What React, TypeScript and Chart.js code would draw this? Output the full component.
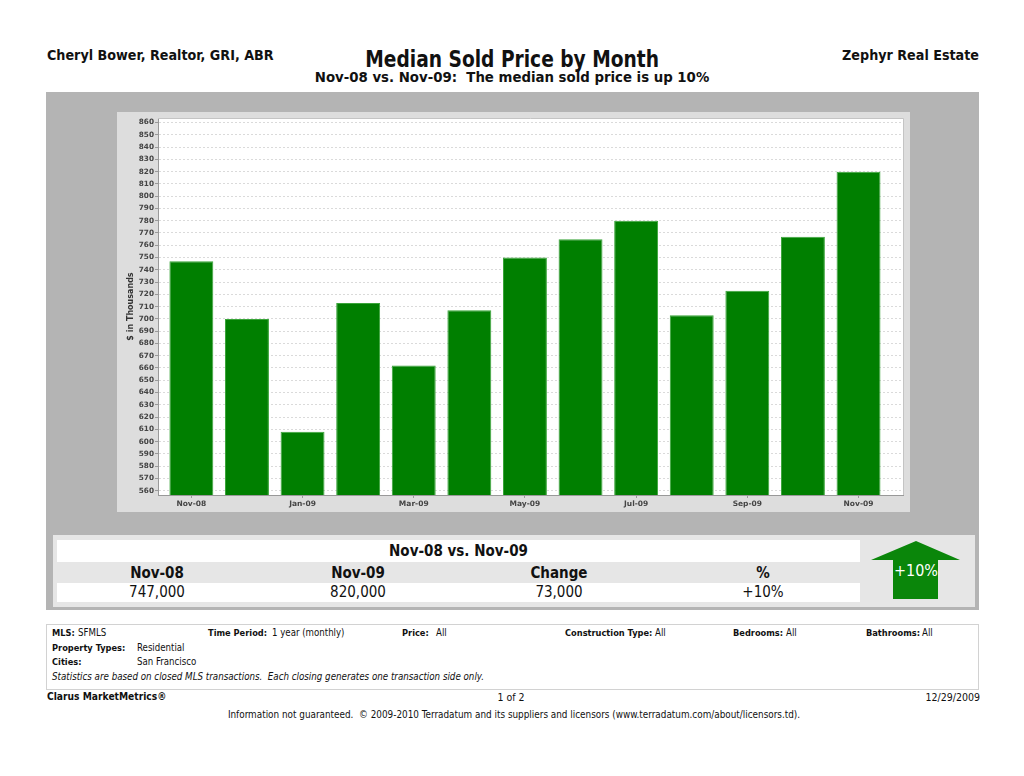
import React, { useEffect, useRef } from "react";
import { Chart, registerables } from "chart.js";

Chart.register(...registerables);

// Monthly median sold price, in thousands of dollars
const months = [
  "Nov-08", "Dec-08", "Jan-09", "Feb-09", "Mar-09", "Apr-09", "May-09",
  "Jun-09", "Jul-09", "Aug-09", "Sep-09", "Oct-09", "Nov-09",
];
const medianPrice = [747, 700, 608, 713, 662, 707, 750, 765, 780, 703, 723, 767, 820];

// Axis labels
const labeledMonths = ["Nov-08", "Jan-09", "Mar-09", "May-09", "Jul-09", "Sep-09", "Nov-09"];
const priceTicks = [
  560, 570, 580, 590, 600, 610, 620, 630, 640, 650, 660, 670, 680, 690, 700,
  710, 720, 730, 740, 750, 760, 770, 780, 790, 800, 810, 820, 830, 840, 850, 860,
];

// Comparison table headers
const compareHeaders = ["Nov-08", "Nov-09", "Change", "%"];

const NARROW = '"DejaVu Sans Condensed", "Liberation Sans Narrow", "Liberation Sans", sans-serif';
const TICK_FONT = '"DejaVu Sans", Verdana, sans-serif';
const GREEN = "#0a860a";

const fmt = (n: number) => n.toLocaleString("en-US");

const firstVal = medianPrice[0] * 1000;
const lastVal = medianPrice[medianPrice.length - 1] * 1000;
const change = lastVal - firstVal;
const pct = Math.round((change / firstVal) * 100);
const pctText = (pct >= 0 ? "+" : "") + pct + "%";
const compareValues = [fmt(firstVal), fmt(lastVal), fmt(change), pctText];

const plotBackground = {
  id: "plotBackground",
  beforeDraw(chart: any) {
    const { ctx, chartArea: a } = chart;
    ctx.save();
    ctx.fillStyle = "#dddddd";
    ctx.fillRect(0, 0, chart.width, chart.height);
    ctx.fillStyle = "#ffffff";
    ctx.fillRect(a.left, a.top, a.right - a.left, a.bottom - a.top);
    ctx.restore();
  },
  afterDraw(chart: any) {
    const { ctx, chartArea: a } = chart;
    ctx.save();
    ctx.strokeStyle = "#c4c4c4";
    ctx.lineWidth = 1;
    ctx.beginPath();
    ctx.moveTo(a.left, a.top + 0.5);
    ctx.lineTo(a.right + 0.5, a.top + 0.5);
    ctx.lineTo(a.right + 0.5, a.bottom);
    ctx.stroke();
    ctx.restore();
  },
};

function PriceChart() {
  const ref = useRef<HTMLCanvasElement | null>(null);
  useEffect(() => {
    if (!ref.current) return;
    const chart = new Chart(ref.current, {
      type: "bar",
      data: {
        datasets: [
          {
            label: "Median Sold Price",
            data: medianPrice.map((v, i) => ({ x: i, y: v })),
            backgroundColor: "#007f00",
            borderColor: "#3aa53a",
            borderWidth: 1,
            barPercentage: 0.79,
            categoryPercentage: 1,
          },
        ],
      },
      options: {
        animation: false,
        responsive: false,
        devicePixelRatio: 1,
        layout: { padding: { top: 6, right: 7, left: 0, bottom: 0 } },
        plugins: { legend: { display: false }, tooltip: { enabled: false } },
        scales: {
          x: {
            type: "linear",
            offset: false,
            min: -0.6,
            max: 12.8,
            afterBuildTicks: (s: any) => {
              s.ticks = labeledMonths.map((m) => ({ value: months.indexOf(m) }));
            },
            afterFit: (s: any) => {
              s.height = 17;
            },
            ticks: {
              autoSkip: false,
              maxRotation: 0,
              padding: 2,
              color: "#444",
              font: { family: TICK_FONT, size: 7.5, weight: "bold" },
              callback: (v: any) => months[v] ?? "",
            },
            grid: { offset: false, drawOnChartArea: false, tickLength: 3, tickColor: "#999" },
            border: { color: "#999" },
          },
          y: {
            min: 556.5,
            max: 863.7,
            afterBuildTicks: (s: any) => {
              s.ticks = priceTicks.map((v) => ({ value: v }));
            },
            afterFit: (s: any) => {
              s.width = 41;
            },
            ticks: {
              padding: 1,
              color: "#444",
              font: { family: TICK_FONT, size: 7.3, weight: "bold" },
              callback: (v: any) => String(v),
            },
            grid: { color: "#dadada", tickLength: 3, tickColor: "#999" },
            border: { color: "#999", dash: [2, 2] },
            title: {
              display: true,
              text: "$ in Thousands",
              color: "#333",
              font: { family: TICK_FONT, size: 8, weight: "bold" },
              padding: { top: 9, bottom: 0 },
            },
          },
        },
      },
      plugins: [plotBackground],
    } as any);
    return () => chart.destroy();
  }, []);
  return <canvas ref={ref} width={793} height={400} style={{ display: "block", width: 793, height: 400 }} />;
}

const abs = (left: number, top: number, extra: React.CSSProperties = {}): React.CSSProperties => ({
  position: "absolute",
  left,
  top,
  whiteSpace: "nowrap",
  ...extra,
});

function InfoLabel({ x, y, label, value, vx }: { x: number; y: number; label: string; value?: string; vx?: number }) {
  const style = { fontFamily: NARROW, lineHeight: "12px", color: "#111" };
  return (
    <>
      <div style={abs(x, y, { ...style, fontSize: 9.2, fontWeight: "bold" })}>{label}</div>
      {value !== undefined && <div style={abs(vx ?? x, y, { ...style, fontSize: 9.6 })}>{value}</div>}
    </>
  );
}

export default function App() {
  const colCenters = [157, 358, 559, 763];
  const headerText: React.CSSProperties = { fontFamily: NARROW, fontSize: 14.2, fontWeight: "bold", lineHeight: "18px", color: "#111" };
  return (
    <div style={{ position: "absolute", left: 0, top: 0, width: 1024, height: 776, background: "#fff", overflow: "hidden" }}>
      {/* Header */}
      <div style={abs(47, 46, headerText)}>Cheryl Bower, Realtor, GRI, ABR</div>
      <div style={abs(0, 46, { ...headerText, width: 979, textAlign: "right" })}>Zephyr Real Estate</div>
      <div style={abs(0, 46, { width: 1024, textAlign: "center", lineHeight: "26px" })}>
        <span style={{ display: "inline-block", transform: "scaleX(0.9)", fontFamily: NARROW, fontSize: 23, fontWeight: "bold", color: "#111" }}>
          Median Sold Price by Month
        </span>
      </div>
      <div style={abs(0, 68, { ...headerText, fontSize: 14.8, width: 1024, textAlign: "center" })}>
        Nov-08 vs. Nov-09:&nbsp; The median sold price is up 10%
      </div>

      {/* Outer panel */}
      <div style={abs(46, 92, { width: 933, height: 518, background: "#b4b4b4" })} />
      <div style={abs(117, 112, { width: 793, height: 400 })}>
        <PriceChart />
      </div>

      {/* Comparison summary */}
      <div style={abs(53, 535, { width: 922, height: 72, background: "#e6e6e6" })} />
      <div style={abs(57, 540, { width: 803, height: 22, background: "#fff" })} />
      <div style={abs(57, 583, { width: 803, height: 19, background: "#fff" })} />
      <div style={abs(57, 541, { width: 803, textAlign: "center", fontFamily: NARROW, fontSize: 15, fontWeight: "bold", lineHeight: "20px", color: "#111" })}>
        Nov-08 vs. Nov-09
      </div>
      {compareHeaders.map((h, i) => (
        <div key={h} style={abs(colCenters[i] - 100, 563, { width: 200, textAlign: "center", fontFamily: NARROW, fontSize: 15, fontWeight: "bold", lineHeight: "20px", color: "#111" })}>
          {h}
        </div>
      ))}
      {compareValues.map((v, i) => (
        <div key={i} style={abs(colCenters[i] - 100, 582, { width: 200, textAlign: "center", fontFamily: NARROW, fontSize: 15, lineHeight: "20px", color: "#111" })}>
          {v}
        </div>
      ))}
      <svg style={abs(866, 538)} width={100} height={64}>
        <polygon points="50,3 94,22 72,22 72,61 27,61 27,22 5,22" fill={GREEN} />
        <text x={50} y={38} textAnchor="middle" fill="#fff" fontFamily={NARROW} fontSize={16}>
          {pctText}
        </text>
      </svg>

      {/* Criteria box */}
      <div style={abs(46, 624, { width: 931, height: 64, border: "1px solid #d2d2d2" })} />
      <InfoLabel x={52} y={627} label="MLS:" value="SFMLS" vx={78} />
      <InfoLabel x={208} y={627} label="Time Period:" value="1 year (monthly)" vx={272} />
      <InfoLabel x={402} y={627} label="Price:" value="All" vx={436} />
      <InfoLabel x={565} y={627} label="Construction Type:" value="All" vx={655} />
      <InfoLabel x={733} y={627} label="Bedrooms:" value="All" vx={786} />
      <InfoLabel x={866} y={627} label="Bathrooms:" value="All" vx={922} />
      <InfoLabel x={52} y={642} label="Property Types:" value="Residential" vx={137} />
      <InfoLabel x={52} y={656} label="Cities:" value="San Francisco" vx={137} />
      <div style={abs(52, 671, { fontFamily: NARROW, fontSize: 9.7, lineHeight: "12px", fontStyle: "italic", color: "#111" })}>
        Statistics are based on closed MLS transactions.&nbsp; Each closing generates one transaction side only.
      </div>

      {/* Footer */}
      <div style={abs(47, 690, { fontFamily: NARROW, fontSize: 10.2, fontWeight: "bold", lineHeight: "14px", color: "#111" })}>
        Clarus MarketMetrics®
      </div>
      <div style={abs(0, 690, { width: 1022, textAlign: "center", fontFamily: NARROW, fontSize: 10.5, lineHeight: "14px", color: "#111" })}>
        1 of 2
      </div>
      <div style={abs(0, 690, { width: 980, textAlign: "right", fontFamily: NARROW, fontSize: 10.5, lineHeight: "14px", color: "#111" })}>
        12/29/2009
      </div>
      <div style={abs(0, 708, { width: 1028, textAlign: "center", fontFamily: NARROW, fontSize: 9.86, lineHeight: "14px", color: "#111" })}>
        Information not guaranteed.&nbsp; © 2009-2010 Terradatum and its suppliers and licensors (www.terradatum.com/about/licensors.td).
      </div>
    </div>
  );
}
